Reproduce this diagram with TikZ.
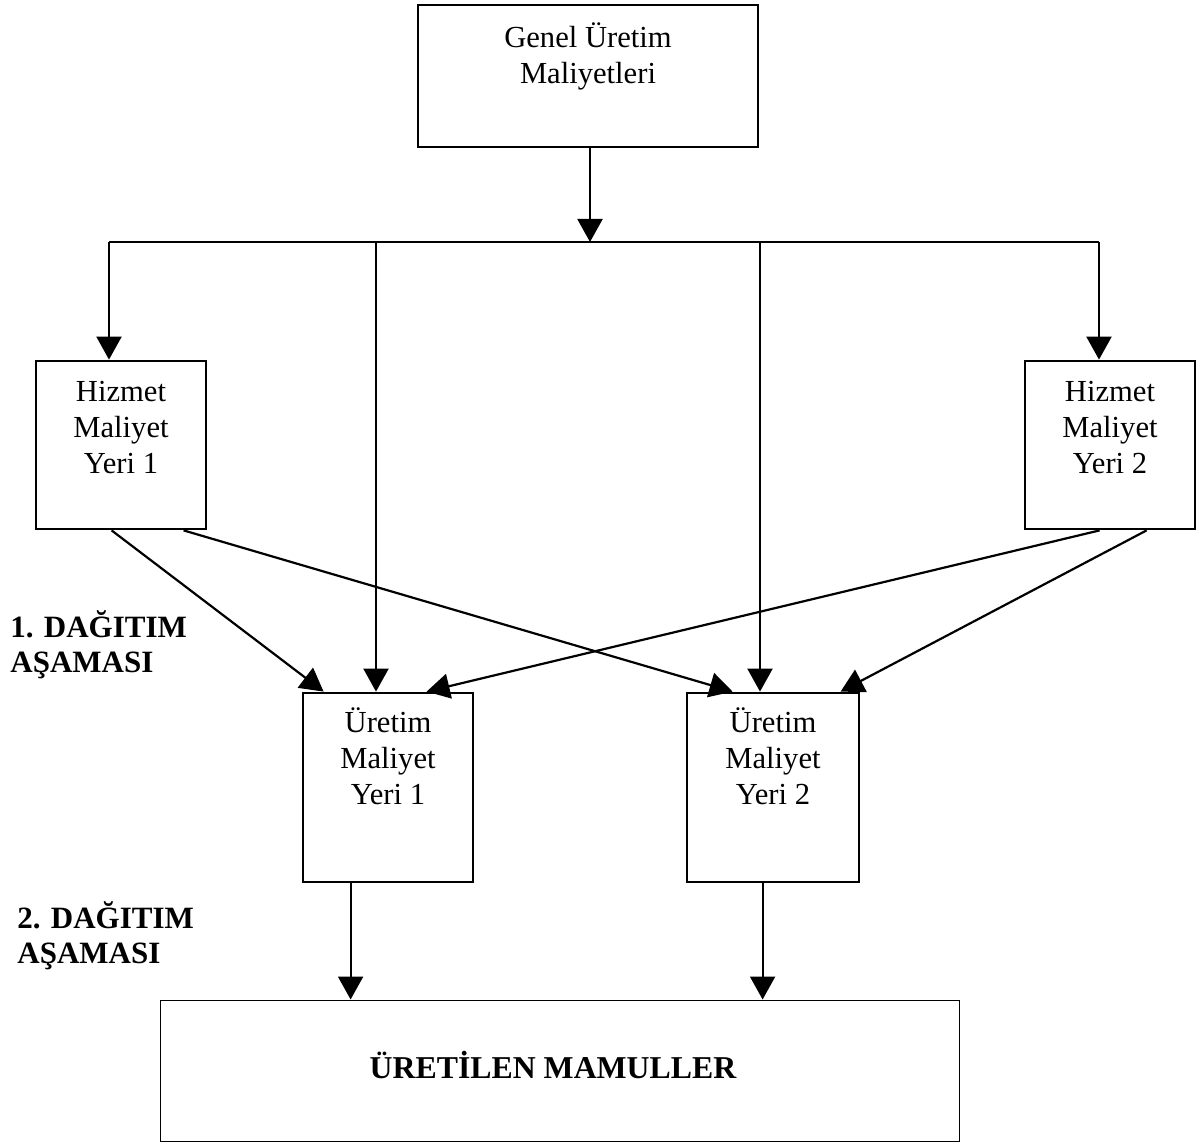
\documentclass[tikz,border=0pt]{standalone}
\usepackage{fontspec}
\setmainfont{Liberation Serif}
\usetikzlibrary{arrows.meta}
\tikzset{
	edge/.style={line width=1.1pt, -{Triangle[length=11.5pt, width=12.5pt]}},
	bus line/.style={line width=1.1pt},
	cost box/.style={
		rectangle,
		draw=black,
		line width=1.4pt,
		minimum width=85pt,
		minimum height=84pt,
		inner sep=0pt
	},
	box text/.style={
		align=center,
		inner sep=0pt,
		font=\fontsize{15.3}{18}\selectfont
	},
	stage/.style={
		align=left,
		anchor=west,
		inner sep=0pt,
		font=\fontsize{15.5}{17.5}\selectfont\bfseries
	}
}

\begin{document}
\begin{tikzpicture}[x=0.5pt, y=-0.5pt]
			\useasboundingbox (0,0) rectangle (1199,1143);

			\node[cost box, minimum width=170pt, minimum height=71pt] (genel) at (588,76) {};
			\node[box text] (genel-t) at (588,56) {Genel Üretim\\Maliyetleri};

			\node[cost box] (hiz1) at (121,445) {};
			\node[box text] (hiz1-t) at (121,428) {Hizmet\\Maliyet\\Yeri 1};
			\node[cost box] (hiz2) at (1110,445) {};
			\node[box text] (hiz2-t) at (1110,428) {Hizmet\\Maliyet\\Yeri 2};

			\node[cost box, minimum height=94.5pt] (ur1) at (388,787.5) {};
			\node[box text] (ur1-t) at (388,756) {Üretim\\Maliyet\\Yeri 1};
			\node[cost box, minimum width=86pt, minimum height=94.5pt] (ur2) at (773,787.5) {};
			\node[box text] (ur2-t) at (773,756) {Üretim\\Maliyet\\Yeri 2};

			\node[cost box, line width=0.5pt, minimum width=399.5pt, minimum height=70.5pt] (mamul) at (559.5,1070.5) {};
			\node[anchor=base, inner sep=0pt, font=\fontsize{15.9}{18}\selectfont\bfseries] (mamul-t) at (553,1078) {ÜRETİLEN MAMULLER};

			\node[stage] (stage1) at (10,644.5) {1. DAĞITIM\\AŞAMASI};
			\node[stage] (stage2) at (17,935.5) {2. DAĞITIM\\AŞAMASI};

			\coordinate (bus) at (590,242);
			\coordinate (bus-l) at (109,242);
			\coordinate (bus-a) at (376,242);
			\coordinate (bus-b) at (760,242);
			\coordinate (bus-r) at (1099,242);
			\draw[bus line] (bus-l) -- (bus-r);
			\draw[edge] (bus |- genel.south) -- (bus);
			\draw[edge] (bus-l) -- (bus-l |- hiz1.north);
			\draw[edge] (bus-r) -- (bus-r |- hiz2.north);
			\draw[edge] (bus-a) -- (bus-a |- ur1.north);
			\draw[edge] (bus-b) -- (bus-b |- ur2.north);

			\draw[edge] ([xshift=38.5pt]hiz1.south west) -- ([xshift=11pt]ur1.north west);
			\draw[edge] ([xshift=74.5pt]hiz1.south west) -- ([xshift=23.5pt]ur2.north west);
			\draw[edge] ([xshift=38pt]hiz2.south west) -- ([xshift=62.5pt]ur1.north west);
			\draw[edge] ([xshift=61.5pt]hiz2.south west) -- ([xshift=77.5pt]ur2.north west);

			\coordinate (ur1-out) at ([xshift=24.5pt]ur1.south west);
			\coordinate (ur2-out) at ([xshift=38.5pt]ur2.south west);
			\draw[edge] (ur1-out) -- (ur1-out |- mamul.north);
			\draw[edge] (ur2-out) -- (ur2-out |- mamul.north);
		\end{tikzpicture}
\end{document}
